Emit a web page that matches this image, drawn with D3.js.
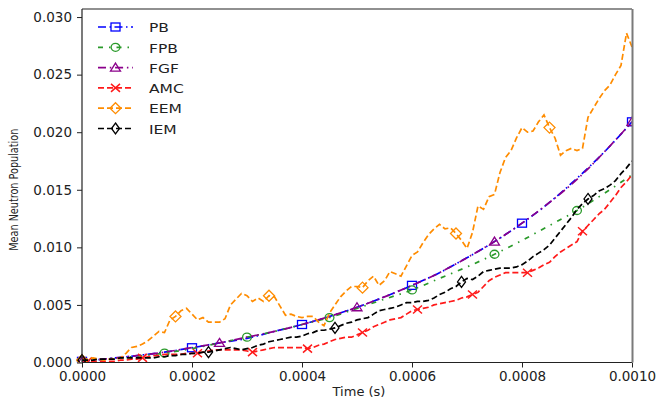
<!DOCTYPE html>
<html>
<head>
<meta charset="utf-8">
<script src="https://cdn.jsdelivr.net/npm/d3@7"></script>
<style>
  body { margin: 0; background: #fff; }
  text { font-family: "DejaVu Sans", sans-serif; fill: #222; }
</style>
</head>
<body>
<svg id="chart" width="659" height="403"></svg>
<script>
// Time grid of the smooth estimators (s)
const smoothTime = [0, 0.00005, 0.0001, 0.00015, 0.0002, 0.00025, 0.0003, 0.00035, 0.0004, 0.00045,
  0.0005, 0.00055, 0.0006, 0.00065, 0.0007, 0.00075, 0.0008, 0.00085, 0.0009, 0.00095, 0.001];

const pbValues = [0.0001, 0.00035, 0.0006, 0.0009, 0.00128, 0.0017, 0.0021, 0.0027, 0.0033, 0.0040,
  0.0048, 0.0057, 0.0067, 0.0078, 0.0091, 0.0105, 0.0121, 0.0139, 0.0160, 0.0183, 0.0209];

const fpbValues = [0.0001, 0.0003, 0.00055, 0.00082, 0.0012, 0.0017, 0.0022, 0.0027, 0.0033, 0.0039,
  0.0047, 0.0055, 0.0063, 0.0073, 0.0083, 0.0094, 0.0106, 0.0119, 0.0132, 0.0147, 0.0163];

const fgfValues = [0.0001, 0.00035, 0.0006, 0.0009, 0.0013, 0.0017, 0.0022, 0.0027, 0.0033, 0.0040,
  0.0048, 0.0057, 0.0067, 0.0078, 0.0091, 0.0105, 0.0121, 0.0139, 0.0159, 0.0183, 0.0209];

// Time grid of the sampled (Monte Carlo / Euler) estimators, 10 µs steps
const sampleTime = d3.range(101).map(i => +(i * 1e-5).toFixed(5));

const amcValues = [0.0000, 0.0001, 0.0001, 0.0001, 0.0001, 0.0001, 0.0001, 0.0002, 0.0002, 0.0003,
  0.0003, 0.0004, 0.0005, 0.0006, 0.0006, 0.0007, 0.0007, 0.0007, 0.0007, 0.0008,
  0.0008, 0.0008, 0.0009, 0.0010, 0.0011, 0.0011, 0.0011, 0.0011, 0.0011, 0.0011,
  0.0010, 0.0009, 0.0010, 0.0011, 0.0012, 0.0013, 0.0013, 0.0013, 0.0013, 0.0013,
  0.0013, 0.0012, 0.0013, 0.0015, 0.0016, 0.0018, 0.0020, 0.0021, 0.0022, 0.0022,
  0.0024, 0.0026, 0.0028, 0.0031, 0.0033, 0.0035, 0.0037, 0.0038, 0.0039, 0.0042,
  0.0045, 0.0046, 0.0047, 0.0048, 0.0050, 0.0051, 0.0052, 0.0053, 0.0054, 0.0056,
  0.0057, 0.0059, 0.0061, 0.0066, 0.0071, 0.0074, 0.0076, 0.0078, 0.0078, 0.0078,
  0.0078, 0.0078, 0.0080, 0.0082, 0.0085, 0.0087, 0.0092, 0.0096, 0.0099, 0.0102,
  0.0105, 0.0114, 0.0119, 0.0124, 0.0129, 0.0133, 0.0139, 0.0145, 0.0152, 0.0157,
  0.0163];

const eemValues = [0.0002, 0.0003, 0.0004, 0.0003, 0.0002, 0.0003, 0.0003, 0.0004, 0.0008, 0.0013,
  0.0014, 0.0016, 0.0019, 0.0023, 0.0027, 0.0026, 0.0037, 0.0040, 0.0045, 0.0047,
  0.0042, 0.0037, 0.0039, 0.0035, 0.0035, 0.0035, 0.0038, 0.0050, 0.0055, 0.0060,
  0.0058, 0.0053, 0.0056, 0.0053, 0.0058, 0.0057, 0.0049, 0.0041, 0.0042, 0.0040,
  0.0039, 0.0040, 0.0040, 0.0035, 0.0032, 0.0043, 0.0050, 0.0057, 0.0062, 0.0066,
  0.0066, 0.0065, 0.0071, 0.0075, 0.0067, 0.0071, 0.0079, 0.0077, 0.0075, 0.0084,
  0.0093, 0.0096, 0.0104, 0.0111, 0.0116, 0.0120, 0.0116, 0.0117, 0.0112, 0.0106,
  0.0099, 0.0113, 0.0136, 0.0133, 0.0144, 0.0146, 0.0165, 0.0178, 0.0184, 0.0195,
  0.0204, 0.0200, 0.0201, 0.0209, 0.0215, 0.0204, 0.0195, 0.0180, 0.0184, 0.0186,
  0.0184, 0.0186, 0.0213, 0.0221, 0.0229, 0.0236, 0.0241, 0.0250, 0.0258, 0.0286,
  0.0274];

const iemValues = [0.0002, 0.0002, 0.0002, 0.0003, 0.0003, 0.0003, 0.0003, 0.0004, 0.0004, 0.0004,
  0.0004, 0.0004, 0.0004, 0.0004, 0.0005, 0.0005, 0.0006, 0.0006, 0.0007, 0.0007,
  0.0008, 0.0008, 0.0009, 0.0009, 0.0010, 0.0011, 0.0012, 0.0013, 0.0012, 0.0011,
  0.0012, 0.0013, 0.0015, 0.0016, 0.0018, 0.0019, 0.0020, 0.0021, 0.0022, 0.0022,
  0.0023, 0.0025, 0.0026, 0.0028, 0.0028, 0.0029, 0.0030, 0.0032, 0.0034, 0.0035,
  0.0037, 0.0038, 0.0039, 0.0042, 0.0045, 0.0046, 0.0047, 0.0048, 0.0050, 0.0052,
  0.0052, 0.0053, 0.0053, 0.0054, 0.0056, 0.0059, 0.0061, 0.0064, 0.0066, 0.0070,
  0.0073, 0.0072, 0.0075, 0.0079, 0.0080, 0.0081, 0.0082, 0.0082, 0.0082, 0.0083,
  0.0085, 0.0088, 0.0092, 0.0095, 0.0098, 0.0102, 0.0108, 0.0114, 0.0120, 0.0126,
  0.0133, 0.0138, 0.0142, 0.0145, 0.0149, 0.0151, 0.0154, 0.0158, 0.0164, 0.0169,
  0.0175];

const xTicks = [0, 0.0002, 0.0004, 0.0006, 0.0008, 0.001];
const yTicks = [0, 0.005, 0.010, 0.015, 0.020, 0.025, 0.030];

// Series table: data + drawing style
const series = [
  { name: "PB",  t: smoothTime, v: pbValues,  color: "#0000ff", dash: "8,3.5,1.5,3.5", offset: 0, curve: d3.curveMonotoneX, marker: "square",  mStart: 0, mStep: 4 },
  { name: "FPB", t: smoothTime, v: fpbValues, color: "#2a9a2a", dash: "5,6,1.5,6", offset: 0, curve: d3.curveMonotoneX, marker: "circle",  mStart: 0, mStep: 3 },
  { name: "FGF", t: smoothTime, v: fgfValues, color: "#8b008b", dash: "8,3.8,1.5,3.8", offset: 0, curve: d3.curveMonotoneX, marker: "triangle", mStart: 0, mStep: 5 },
  { name: "AMC", t: sampleTime, v: amcValues, color: "#ff1a1a", dash: "6,3", offset: 0, curve: d3.curveLinear, marker: "cross",   mStart: 1, mStep: 10 },
  { name: "EEM", t: sampleTime, v: eemValues, color: "#ff8c00", dash: "6,3", offset: 0, curve: d3.curveLinear, marker: "diamond", mStart: 0, mStep: 17 },
  { name: "IEM", t: sampleTime, v: iemValues, color: "#000000", dash: "6,3", offset: 0, curve: d3.curveLinear, marker: "thindiamond", mStart: 0, mStep: 23 }
];

const margin = { left: 82, right: 27, top: 9, bottom: 40.5 };
const W = 659, H = 403;
const plotW = W - margin.left - margin.right;
const plotH = H - margin.top - margin.bottom;

const svg = d3.select("#chart");
const g = svg.append("g").attr("transform", `translate(${margin.left},${margin.top})`);

const x = d3.scaleLinear().domain([0, 0.001]).range([0, plotW]);
const y = d3.scaleLinear().domain([0, 0.0307]).range([plotH, 0]);

// clip for data
svg.append("defs").append("clipPath").attr("id", "clip")
  .append("rect").attr("x", -6).attr("y", -6).attr("width", plotW + 6).attr("height", plotH + 6);

// Axes
const xAxis = d3.axisBottom(x).tickValues(xTicks).tickFormat(d3.format(".4f")).tickSize(5).tickSizeOuter(0).tickPadding(4);
const yAxis = d3.axisLeft(y).tickValues(yTicks).tickFormat(d3.format(".3f")).tickSize(5).tickSizeOuter(0).tickPadding(5);

const gx = g.append("g").attr("transform", `translate(0,${plotH})`).call(xAxis);
const gy = g.append("g").call(yAxis);
[gx, gy].forEach(a => {
  a.select(".domain").remove();
  a.selectAll(".tick line").attr("stroke", "#222").attr("stroke-width", 1);
  a.selectAll(".tick text").attr("font-size", 13.5).attr("font-family", "DejaVu Sans, sans-serif").attr("fill", "#222");
});

// Marker drawing
function drawMarker(sel, type, color) {
  const sw = 1.3;
  if (type === "square") {
    sel.append("rect").attr("x", -4.5).attr("y", -4).attr("width", 9).attr("height", 8)
      .attr("fill", "none").attr("stroke", color).attr("stroke-width", sw);
  } else if (type === "circle") {
    sel.append("ellipse").attr("rx", 4.4).attr("ry", 4)
      .attr("fill", "none").attr("stroke", color).attr("stroke-width", sw);
  } else if (type === "triangle") {
    sel.append("path").attr("d", "M0,-4.5L5,3.5L-5,3.5Z")
      .attr("fill", "none").attr("stroke", color).attr("stroke-width", sw);
  } else if (type === "cross") {
    sel.append("path").attr("d", "M-4.5,-4L4.5,4M-4.5,4L4.5,-4")
      .attr("fill", "none").attr("stroke", color).attr("stroke-width", sw + 0.2);
  } else if (type === "diamond") {
    sel.append("path").attr("d", "M0,-5.5L5.5,0L0,5.5L-5.5,0Z")
      .attr("fill", "none").attr("stroke", color).attr("stroke-width", sw);
  } else if (type === "thindiamond") {
    sel.append("path").attr("d", "M0,-5.5L4,0L0,5.5L-4,0Z")
      .attr("fill", "none").attr("stroke", color).attr("stroke-width", sw);
  }
}

const dataLayer = g.append("g").attr("clip-path", "url(#clip)");

series.forEach(s => {
  const pts = s.t.map((t, i) => ({ t, v: s.v[i], i }));
  const line = d3.line().x(d => x(d.t)).y(d => y(d.v)).curve(s.curve);
  dataLayer.append("path").datum(pts)
    .attr("d", line)
    .attr("fill", "none")
    .attr("stroke", s.color)
    .attr("stroke-width", 1.7)
    .attr("stroke-dasharray", s.dash)
    .attr("stroke-dashoffset", s.offset);
  const marks = pts.filter(d => d.i >= s.mStart && (d.i - s.mStart) % s.mStep === 0);
  dataLayer.selectAll(null).data(marks).enter().append("g")
    .attr("transform", d => `translate(${x(d.t)},${y(d.v)})`)
    .each(function () { drawMarker(d3.select(this), s.marker, s.color); });
});

// Frame
g.append("line").attr("x1", 0).attr("x2", 0).attr("y1", 0).attr("y2", plotH).attr("stroke", "#222").attr("stroke-width", 1.2);
g.append("line").attr("x1", 0).attr("x2", plotW).attr("y1", plotH).attr("y2", plotH).attr("stroke", "#222").attr("stroke-width", 1.2);
g.append("line").attr("x1", 0).attr("x2", plotW).attr("y1", 0).attr("y2", 0).attr("stroke", "#222").attr("stroke-width", 1.2);
g.append("line").attr("x1", plotW + 0.5).attr("x2", plotW + 0.5).attr("y1", 0).attr("y2", plotH).attr("stroke", "#7a7a7a").attr("stroke-width", 2);

// Legend
const legend = g.append("g").attr("transform", "translate(16,18)");
series.forEach((s, k) => {
  const row = legend.append("g").attr("transform", `translate(0,${k * 20.3})`);
  row.append("line").attr("x1", 0).attr("x2", 35).attr("y1", 0).attr("y2", 0)
    .attr("stroke", s.color).attr("stroke-width", 1.7)
    .attr("stroke-dasharray", s.dash).attr("stroke-dashoffset", s.offset);
  const m = row.append("g").attr("transform", "translate(17.5,0)");
  drawMarker(m, s.marker, s.color);
  row.append("text").attr("x", 51).attr("y", 0)
    .attr("transform", "translate(0,5.2) scale(1,0.82)")
    .attr("font-size", 15.5).text(s.name);
});

// Axis labels
svg.append("text")
  .attr("x", margin.left + plotW / 2 + 2).attr("y", 396)
  .attr("text-anchor", "middle").attr("font-size", 13)
  .text("Time (s)");

svg.append("text")
  .attr("transform", `translate(18,${margin.top + plotH / 2 + 4}) rotate(-90)`)
  .attr("text-anchor", "middle").attr("font-size", 12.5)
  .attr("textLength", 122).attr("lengthAdjust", "spacingAndGlyphs")
  .text("Mean Neutron Population");
</script>
</body>
</html>
